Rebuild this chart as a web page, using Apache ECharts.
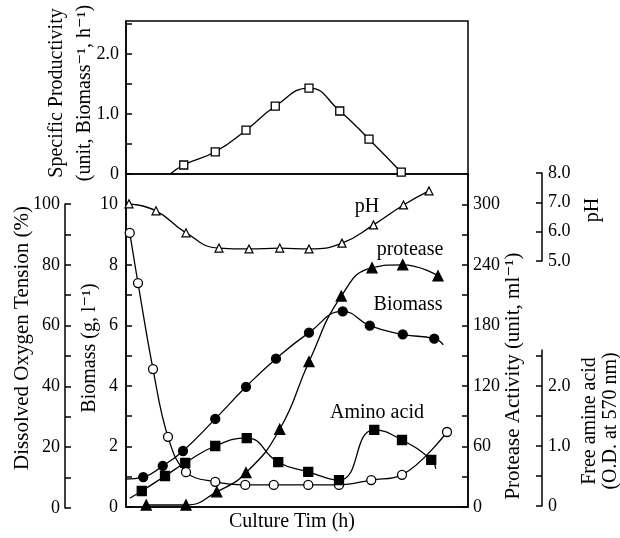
<!DOCTYPE html>
<html><head><meta charset="utf-8">
<script src="https://cdn.jsdelivr.net/npm/echarts@6/dist/echarts.min.js"></script>
<style>html,body{margin:0;padding:0;background:#fff}#c{width:620px;height:538px}</style>
</head><body><div id="c"></div>
<script>
// ---- data (time in h) ----
const prodTime = [7.7, 11.9, 16.0, 19.9, 24.4, 28.5, 32.4, 36.7];
const prodVal  = [0.15, 0.37, 0.73, 1.13, 1.43, 1.05, 0.58, 0.03];
const prodCurveStart = [5.9, 0];

const pHTime = [0.4, 4.0, 8.0, 12.4, 16.4, 20.5, 24.4, 28.8, 33.0, 37.0, 40.4];
const pHVal  = [6.95, 6.71, 5.96, 5.44, 5.41, 5.44, 5.41, 5.61, 6.23, 6.91, 7.39];

const doTime = [0.5, 1.6, 3.6, 5.6, 8.0, 11.9, 15.9, 19.7, 24.3, 28.4, 32.7, 36.8, 42.8];
const doVal  = [90.5, 74, 45.7, 23.4, 11.8, 8.6, 7.6, 7.6, 7.6, 7.6, 9.2, 10.9, 25];

const bioTime = [2.3, 4.9, 7.6, 11.9, 16.0, 20.0, 24.4, 28.9, 32.5, 36.9, 41.1];
const bioVal  = [0.99, 1.36, 1.85, 2.91, 3.97, 4.90, 5.76, 6.46, 5.99, 5.70, 5.56];
const bioCurveStart = [0, 0.92];
const bioCurveEnd = [42.3, 5.36];

const protTime = [2.7, 8.0, 12.1, 16.0, 20.5, 24.4, 28.7, 32.8, 36.9, 41.6];
const protVal  = [2, 2, 15, 34, 77, 144, 209, 237, 240, 229];

const aminoTime = [2.1, 5.2, 7.9, 11.9, 16.1, 20.3, 24.3, 28.4, 33.1, 36.8, 40.7];
const aminoVal  = [0.25, 0.50, 0.72, 1.00, 1.13, 0.73, 0.57, 0.43, 1.27, 1.10, 0.77];
const aminoCurveStart = [0.5, 0.13];
const aminoCurveEnd = [41.3, 0.62];

// ---- helpers ----
const SERIF = '"Liberation Serif", "DejaVu Serif", serif';
const K = '#000';
function pts(t, v, start, end) {
  const d = t.map((x, i) => [x, v[i]]);
  if (start) d.unshift({ value: start, symbol: 'none' });
  if (end) d.push({ value: end, symbol: 'none' });
  return d;
}
const xCommon = { type: 'value', min: 0, max: 45.6, show: false };
function yAx(o) {
  return Object.assign({
    type: 'value',
    axisLine: { show: true, onZero: false, lineStyle: { color: K, width: 1.5 } },
    axisTick: { show: true, inside: true, length: 6, lineStyle: { color: K, width: 1.5 } },
    splitLine: { show: false },
    axisLabel: { color: K, fontFamily: SERIF, fontSize: 18, margin: 7 }
  }, o);
}
function lineSeries(o) {
  return Object.assign({
    type: 'line', smooth: 0.5, symbolSize: 9,
    lineStyle: { color: K, width: 1.3 },
    itemStyle: { color: K, borderColor: K, borderWidth: 1.3 },
    emphasis: { disabled: true }, animation: false, z: 3
  }, o);
}
function txt(x, y, s, rot, size) {
  return {
    type: 'text', x: x, y: y, rotation: rot || 0, silent: true,
    style: { text: s, font: (size || 20) + 'px ' + SERIF, fill: K,
             align: 'center', verticalAlign: 'middle',
             textAlign: 'center', textVerticalAlign: 'middle' }
  };
}
const R = Math.PI / 2;

const option = {
  backgroundColor: '#fff',
  animation: false,
  grid: [
    { left: 126, right: 152, top: 21, bottom: 364, show: true, borderColor: K, borderWidth: 1.5 },
    { left: 126, right: 152, top: 174, bottom: 31, show: true, borderColor: K, borderWidth: 1.5 },
    { left: 126, right: 152, top: 204, bottom: 30 },
    { left: 126, right: 152, top: 173, bottom: 277 },
    { left: 126, right: 152, top: 350, bottom: 32 }
  ],
  xAxis: [
    Object.assign({}, xCommon, { gridIndex: 0 }),
    { type: 'value', min: 0, max: 45.6, gridIndex: 1,
      axisLine: { show: true, lineStyle: { color: K, width: 1.5 } },
      axisTick: { show: false }, axisLabel: { show: false }, splitLine: { show: false } },
    Object.assign({}, xCommon, { gridIndex: 2 }),
    Object.assign({}, xCommon, { gridIndex: 3 }),
    Object.assign({}, xCommon, { gridIndex: 4 })
  ],
  yAxis: [
    yAx({ gridIndex: 0, min: 0, max: 2.55, interval: 0.5,
      axisLabel: { color: K, fontFamily: SERIF, fontSize: 18, margin: 7, showMaxLabel: false,
        formatter: v => v === 0 ? '0' : (Math.abs(v - Math.round(v)) < 1e-6 ? v.toFixed(1) : '') } }),
    yAx({ gridIndex: 1, min: 0, max: 11, interval: 1,
      axisLabel: { color: K, fontFamily: SERIF, fontSize: 18, margin: 8, showMaxLabel: false,
        formatter: v => (v % 2 === 0 && v <= 10) ? String(v) : '' } }),
    yAx({ gridIndex: 1, position: 'right', min: 0, max: 330, interval: 30,
      axisLabel: { color: K, fontFamily: SERIF, fontSize: 18, margin: 5, showMaxLabel: false,
        formatter: v => (v % 60 === 0 && v <= 300) ? String(v) : '' } }),
    yAx({ gridIndex: 2, position: 'left', offset: 61, min: 0, max: 100, interval: 10,
      axisLabel: { color: K, fontFamily: SERIF, fontSize: 18, margin: 5,
        formatter: v => (v % 20 === 0) ? String(v) : '' } }),
    yAx({ gridIndex: 3, position: 'right', offset: 74, min: 5, max: 8, interval: 1,
      axisLabel: { color: K, fontFamily: SERIF, fontSize: 18, margin: 6,
        formatter: v => v.toFixed(1) } }),
    yAx({ gridIndex: 4, position: 'right', offset: 74, min: 0, max: 2.6, interval: 0.5,
      axisLabel: { color: K, fontFamily: SERIF, fontSize: 18, margin: 6, showMaxLabel: false,
        formatter: v => v === 0 ? '0' : (Math.abs(v - Math.round(v)) < 1e-6 ? v.toFixed(1) : '') } })
  ],
  series: [
    lineSeries({ name: 'Specific Productivity', xAxisIndex: 0, yAxisIndex: 0, symbol: 'rect', symbolSize: 8,
      itemStyle: { color: '#fff', borderColor: K, borderWidth: 1.3 },
      data: pts(prodTime, prodVal, prodCurveStart) }),
    lineSeries({ name: 'pH', xAxisIndex: 3, yAxisIndex: 4, symbol: 'triangle', symbolSize: 8,
      itemStyle: { color: '#fff', borderColor: K, borderWidth: 1.2 },
      data: pts(pHTime, pHVal) }),
    lineSeries({ name: 'DO', xAxisIndex: 2, yAxisIndex: 3, symbol: 'circle', symbolSize: 9, smooth: 0.4,
      itemStyle: { color: '#fff', borderColor: K, borderWidth: 1.3 },
      data: pts(doTime, doVal) }),
    lineSeries({ name: 'Biomass', xAxisIndex: 1, yAxisIndex: 1, symbol: 'circle', symbolSize: 9,
      data: pts(bioTime, bioVal, bioCurveStart, bioCurveEnd) }),
    lineSeries({ name: 'Protease', xAxisIndex: 1, yAxisIndex: 2, symbol: 'triangle', symbolSize: 10,
      data: pts(protTime, protVal) }),
    lineSeries({ name: 'Amino acid', xAxisIndex: 4, yAxisIndex: 5, symbol: 'rect', symbolSize: 9,
      data: pts(aminoTime, aminoVal, aminoCurveStart, aminoCurveEnd) })
  ],
  graphic: [
    txt(57, 93, 'Specific Productivity', R, 20),
    txt(85, 93, '(unit, Biomass⁻¹, h⁻¹)', R, 20),
    txt(22, 338, 'Dissolved Oxygen Tension (%)', R, 21),
    txt(90, 348, 'Biomass (g, l⁻¹)', R, 20),
    txt(513, 376, 'Protease Activity (unit, ml⁻¹)', R, 21),
    txt(593, 210, 'pH', R, 20),
    txt(590, 421, 'Free amine acid', R, 20),
    txt(611, 421, '(O.D. at 570 nm)', R, 20),
    txt(292, 522, 'Culture Tim (h)', 0, 20),
    txt(367, 207, 'pH', 0, 20),
    txt(410, 250, 'protease', 0, 20),
    txt(408, 305, 'Biomass', 0, 20),
    txt(377, 413, 'Amino acid', 0, 20)
  ]
};
echarts.init(document.getElementById('c'), null, { renderer: 'canvas' }).setOption(option);
</script></body></html>
